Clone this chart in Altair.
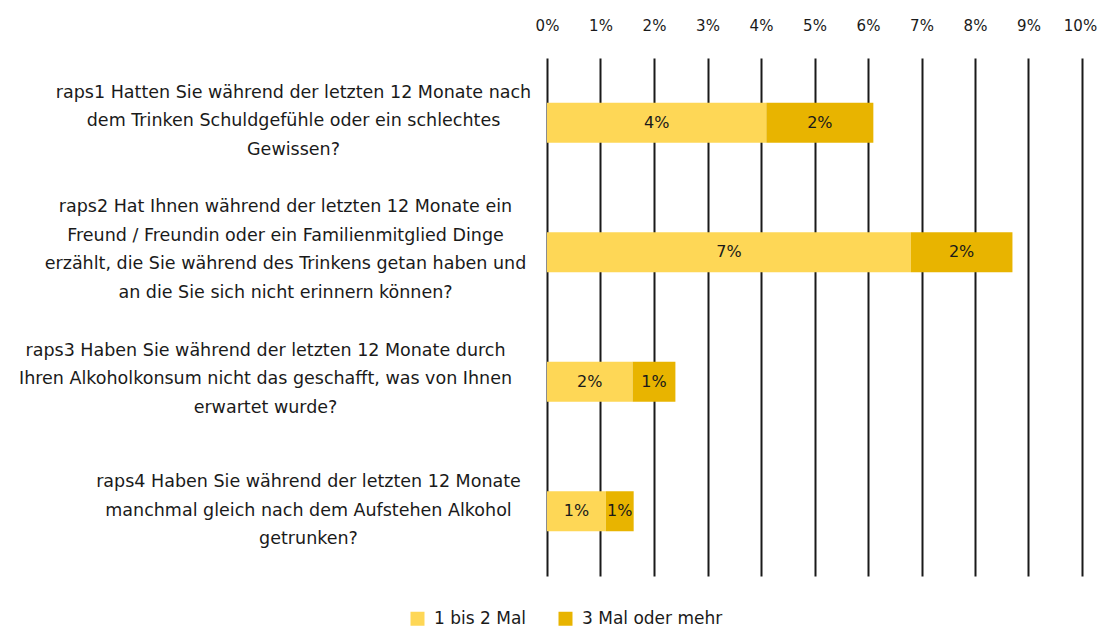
import altair as alt
import pandas as pd

questions = [
    "raps1 Hatten Sie während der letzten 12 Monate nach|dem Trinken Schuldgefühle oder ein schlechtes|Gewissen?",
    "raps2 Hat Ihnen während der letzten 12 Monate ein|Freund / Freundin oder ein Familienmitglied Dinge|erzählt, die Sie während des Trinkens getan haben und|an die Sie sich nicht erinnern können?",
    "raps3 Haben Sie während der letzten 12 Monate durch|Ihren Alkoholkonsum nicht das geschafft, was von Ihnen|erwartet wurde?",
    "raps4 Haben Sie während der letzten 12 Monate|manchmal gleich nach dem Aufstehen Alkohol|getrunken?",
]
series = ["1 bis 2 Mal", "3 Mal oder mehr"]
vals_1_2 = [0.041, 0.068, 0.016, 0.011]
vals_3plus = [0.020, 0.019, 0.008, 0.0052]
colors = ["#FED756", "#E8B400"]
tick_values = [0.0, 0.01, 0.02, 0.03, 0.04, 0.05, 0.06, 0.07, 0.08, 0.09, 0.10]

rows = []
for q, a, b in zip(questions, vals_1_2, vals_3plus):
    rows.append({"question": q, "series": series[0], "order": 0, "value": a})
    rows.append({"question": q, "series": series[1], "order": 1, "value": b})
df = pd.DataFrame(rows)

FONT = "DejaVu Sans"


def per_label(v1, v2, v3, v4):
    return {
        "condition": [
            {"test": "indexof(datum.value, 'raps1') == 0", "value": v1},
            {"test": "indexof(datum.value, 'raps2') == 0", "value": v2},
            {"test": "indexof(datum.value, 'raps3') == 0", "value": v3},
        ],
        "value": v4,
    }


base = alt.Chart(df).transform_stack(
    stack="value", groupby=["question"], as_=["x0", "x1"],
    sort=[alt.SortField("order", order="ascending")]
).transform_calculate(mid="(datum.x0 + datum.x1) / 2")

yenc = alt.Y(
    "question:N",
    sort=questions,
    title=None,
    scale=alt.Scale(paddingInner=0.69, paddingOuter=0.345),
    axis=alt.Axis(
        domain=False, ticks=False, tickSize=0,
        labelExpr="split(datum.label, '|')",
        labelAlign="center", labelBaseline="middle",
        labelFont=FONT, labelFontSize=17.5, labelColor="#1a1a1a",
        labelLineHeight=28.5, labelLimit=0,
        labelPadding=per_label(254, 262, 282, 239),
        labelOffset=per_label(-30, -45, -31, -29),
    ),
)

bars = base.mark_bar().encode(
    x=alt.X(
        "x0:Q",
        scale=alt.Scale(domain=[0, 0.1], nice=False),
        title=None,
        axis=alt.Axis(
            orient="top", format=".0%", values=tick_values,
            grid=True, gridColor="#1a1a1a", gridWidth=2,
            domain=False, ticks=False, labelPadding=25, labelFlush=False,
            labelOffset={"condition": {"test": "datum.value >= 0.1", "value": -2}, "value": 0},
            labelFont=FONT, labelFontSize=15, labelColor="#1a1a1a",
        ),
    ),
    x2="x1:Q",
    y=yenc,
    color=alt.Color(
        "series:N",
        scale=alt.Scale(domain=series, range=colors),
        legend=alt.Legend(
            title=None, orient="none", direction="horizontal",
            legendX=-138, legendY=552,
            symbolType="square", symbolSize=196, symbolStrokeWidth=0,
            labelFont=FONT, labelFontSize=17, labelColor="#1a1a1a",
            labelOffset=8, columnPadding=30, padding=0,
        ),
    ),
)

labels = base.mark_text(font=FONT, fontSize=16, color="#1a1a1a", baseline="middle").encode(
    x=alt.X("mid:Q"),
    y=alt.Y("question:N", sort=questions),
    text=alt.Text("value:Q", format=".0%"),
)

chart = alt.layer(bars, labels).properties(
    width=535, height=518,
    autosize=alt.AutoSizeParams(type="none"),
    padding={"left": 539, "top": 50, "right": 15, "bottom": 51},
).configure_view(stroke=None)

chart.save("out.html", embed_options={"renderer": "svg", "actions": False})
